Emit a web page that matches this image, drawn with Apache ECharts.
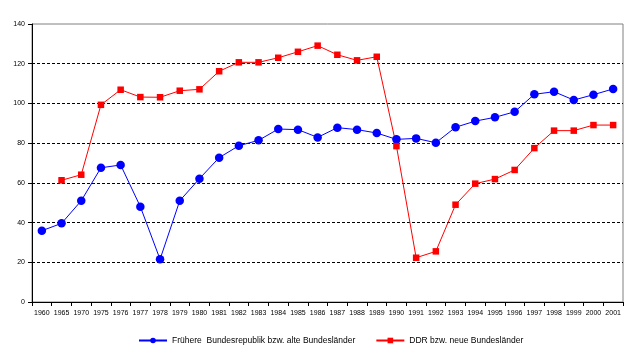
<!DOCTYPE html>
<html>
<head>
<meta charset="utf-8">
<script src="https://cdn.jsdelivr.net/npm/echarts@6/dist/echarts.min.js"></script>
<style>html,body{margin:0;padding:0;background:#fff}#c{width:638px;height:360px}</style>
</head>
<body>
<div id="c"></div>
<script>
const years = ['1960','1965','1970','1975','1976','1977','1978','1979','1980','1981','1982','1983','1984','1985','1986','1987','1988','1989','1990','1991','1992','1993','1994','1995','1996','1997','1998','1999','2000','2001'];
const westValues = [35.9,39.6,51.0,67.6,69.0,48.0,21.5,51.0,62.1,72.7,78.7,81.4,87.1,86.8,82.9,87.8,86.8,85.1,81.9,82.4,80.2,88.0,91.1,93.0,95.8,104.6,105.9,101.7,104.4,107.3];
const eastValues = [null,61.3,64.1,99.3,106.9,103.2,103.1,106.4,107.1,116.2,120.7,120.7,123.0,126.0,129.1,124.5,121.7,123.5,78.5,22.3,25.5,49.0,59.6,61.9,66.5,77.5,86.3,86.3,89.1,89.1];
const westName = 'Frühere  Bundesrepublik bzw. alte Bundesländer';
const eastName = 'DDR bzw. neue Bundesländer';
const yTicks = {min:0, max:140, interval:20};

const chart = echarts.init(document.getElementById('c'), null, {renderer:'canvas'});
const font = 'Liberation Sans, Arial, sans-serif';
chart.setOption({
  animation:false,
  backgroundColor:'#fff',
  grid:{left:32, right:15, top:24, bottom:58, show:true, borderColor:'#808080', borderWidth:1, backgroundColor:'transparent'},
  legend:{
    left:138, top:336, itemWidth:28, itemHeight:7, itemGap:20, padding:[0,0,0,0],
    textStyle:{fontFamily:font, fontSize:8.5, color:'#000'},
    data:[westName, eastName]
  },
  xAxis:{
    type:'category', data:years, boundaryGap:true,
    axisLine:{lineStyle:{color:'#000', width:1}},
    axisTick:{show:true, length:4, lineStyle:{color:'#000'}},
    axisLabel:{fontFamily:font, fontSize:7, color:'#000', margin:8, interval:0}
  },
  yAxis:{
    type:'value', min:yTicks.min, max:yTicks.max, interval:yTicks.interval,
    axisLine:{show:true, lineStyle:{color:'#000', width:1}},
    axisTick:{show:true, length:4, lineStyle:{color:'#000'}},
    axisLabel:{fontFamily:font, fontSize:7, color:'#000', margin:7},
    splitLine:{show:true, showMinLine:false, showMaxLine:false, lineStyle:{color:'#000', type:[3,2], width:1}}
  },
  series:[
    {name:westName, type:'line', data:westValues, color:'#0000ff',
     symbol:'circle', symbolSize:8.5, lineStyle:{width:1, color:'#0000ff'}, itemStyle:{color:'#0000ff'}},
    {name:eastName, type:'line', data:eastValues, color:'#ff0000',
     symbol:'rect', symbolSize:6.5, lineStyle:{width:1, color:'#ff0000'}, itemStyle:{color:'#ff0000'}, connectNulls:false}
  ]
});
</script>
</body>
</html>
